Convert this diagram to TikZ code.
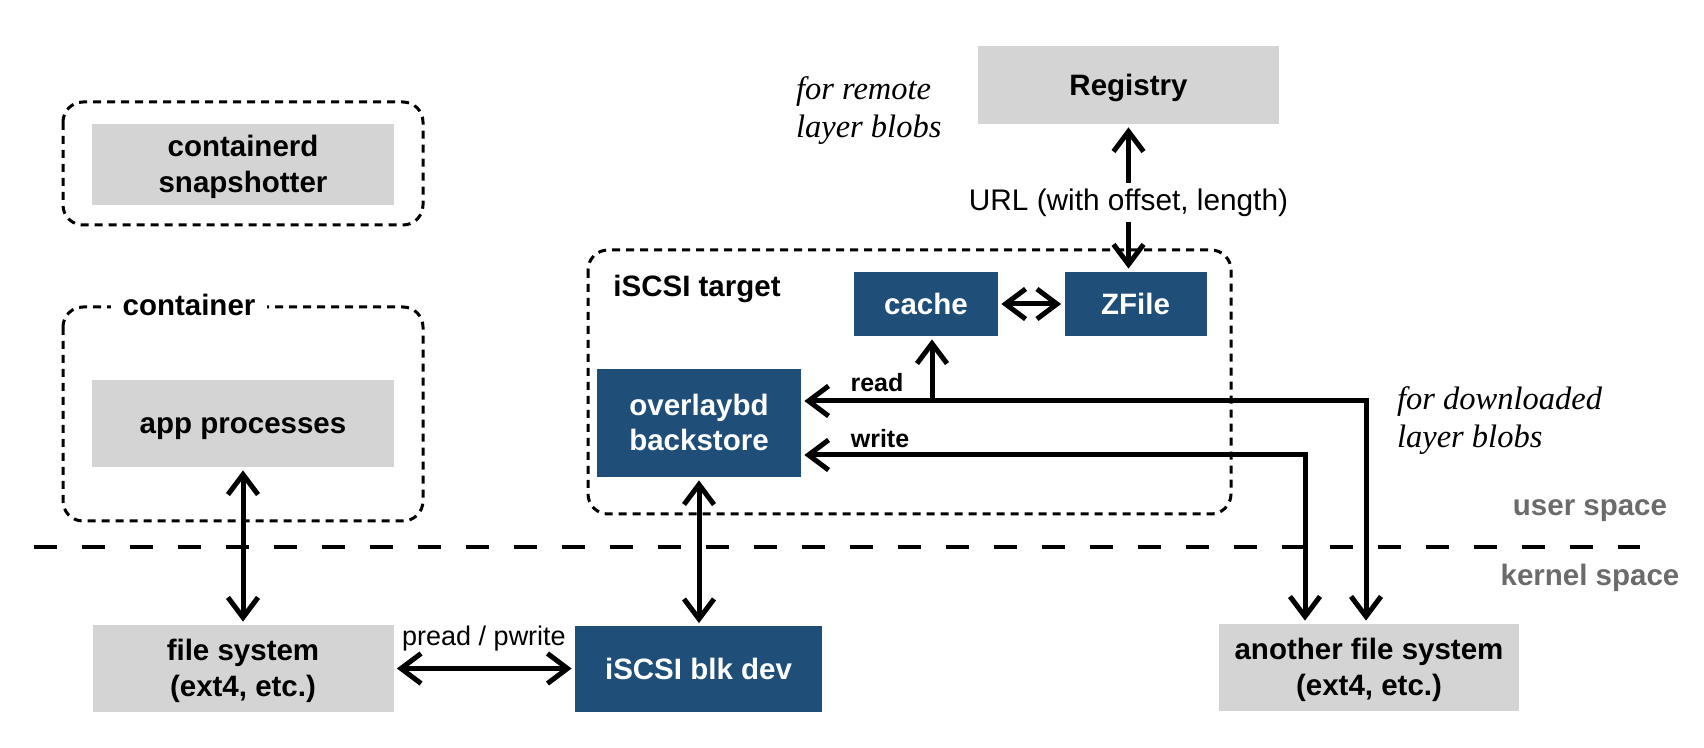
\documentclass[tikz,border=0pt]{standalone}
\usepackage{fontspec}
\setmainfont{Liberation Sans}
\newfontfamily\serifit{Liberation Serif}
\usetikzlibrary{arrows.meta}
\definecolor{bluebox}{HTML}{1F4E79}
\definecolor{graybox}{HTML}{D4D4D4}
\definecolor{graytext}{HTML}{6B6B6B}
\newcommand{\capline}[1]{\raisebox{0pt}[\fontcharht\font`H][0pt]{#1}}
\begin{document}
\begin{tikzpicture}[x=0.5pt,y=-0.5pt,
  >={Straight Barb[length=10pt,width=15pt]},
  lbl/.style={font=\fontsize{14.75}{17.75}\selectfont\bfseries, align=center},
  graynode/.style={lbl, fill=graybox, inner sep=0pt, text=black},
  bluenode/.style={lbl, fill=bluebox, text=white, inner sep=0pt},
  dbox/.style={draw, line width=1.5pt, dash pattern=on 4pt off 3pt, rounded corners=10pt},
  arr/.style={line width=2.5pt, <->, shorten >=1.5pt, shorten <=1.5pt},
  arrone/.style={line width=2.5pt, ->, shorten >=1.5pt},
  small/.style={font=\fontsize{12.5}{14}\selectfont\bfseries},
  note/.style={font=\serifit\itshape\fontsize{16.25}{19}\selectfont, align=left, anchor=west},
  space/.style={font=\fontsize{14.75}{18}\selectfont\bfseries, text=graytext}]
\useasboundingbox (0,0) rectangle (1704,748);

% dashed groups
\draw[dbox] (63,102) rectangle (423,225);
\draw[dbox] (63,307) rectangle (423,521);
\draw[dbox] (588,250) rectangle (1231,514);
\node[lbl, fill=white, inner xsep=6pt, inner ysep=1pt] (contlbl) at (189,305) {container};
\node[lbl] (tgtlbl) at (697,289) {iSCSI target};

% user / kernel divider
\draw[line width=2pt, dash pattern=on 11.5pt off 12.5pt] (34,547) coordinate (dl) -- (1640,547) coordinate (dr);
\node[space] (us) at (1590,505) {\capline{user space}};
\node[space] (ks) at (1590,575) {\capline{kernel space}};

% boxes
\node[graynode, minimum width=151pt, minimum height=40.5pt] (snap) at (243,164.5) {\capline{containerd}\\\capline{snapshotter}};
\node[graynode, minimum width=151pt, minimum height=43.5pt] (app) at (243,423.5) {\capline{app processes}};
\node[graynode, minimum width=150.5pt, minimum height=43.5pt] (fs) at (243,668.5) {\capline{file system}\\\capline{(ext4, etc.)}};
\node[bluenode, minimum width=123.5pt, minimum height=42.5pt] (blk) at (698.5,669) {\capline{iSCSI blk dev}};
\node[bluenode, minimum width=102pt, minimum height=54pt] (ovl) at (699,423) {\capline{overlaybd}\\\capline{backstore}};
\node[bluenode, minimum width=72pt, minimum height=32pt] (cache) at (926,304) {\capline{cache}};
\node[bluenode, minimum width=71pt, minimum height=32pt] (zf) at (1135.5,304) {\capline{ZFile}};
\node[graynode, minimum width=150.5pt, minimum height=39pt] (reg) at (1128.5,85) {\capline{Registry}};
\node[graynode, minimum width=150pt, minimum height=43.5pt] (afs) at (1369,667.5) {\capline{another file system}\\\capline{(ext4, etc.)}};

% notes
\node[note] (remote) at (789,111) {for remote\\layer blobs};
\node[note] (downl) at (1390,421) {for downloaded\\layer blobs};

% connectors
\draw[arr] (app.south) -- (fs.north);
\draw[arr] (fs.east) -- (blk.west |- fs.east);
\node[font=\fontsize{13.5}{15}\selectfont] (prw) at (484,639) {pread / pwrite};
\draw[arr] (ovl.south) -- (ovl.south |- blk.north);
\draw[arr] (cache.east) -- (cache.east -| zf.west);
\draw[arr] (reg.south) -- (reg.south |- zf.north)
  node[pos=0.53, fill=white, inner xsep=2pt, inner ysep=3pt, font=\fontsize{14.9}{17}\selectfont] (url) {URL (with offset, length)};

\coordinate (rd) at (1366,401);
\coordinate (wr) at (1305,455);
\coordinate (rc) at (932,401);
\draw[arr] (ovl.east |- rd) -- (rd) -- (rd |- afs.north);
\draw[arr] (ovl.east |- wr) -- (wr) -- (wr |- afs.north);
\draw[arrone] (rc) -- (rc |- cache.south);
\node[small] (rdl) at (877,383) {read};
\node[small] (wrl) at (880,439) {write};
\end{tikzpicture}
\end{document}
